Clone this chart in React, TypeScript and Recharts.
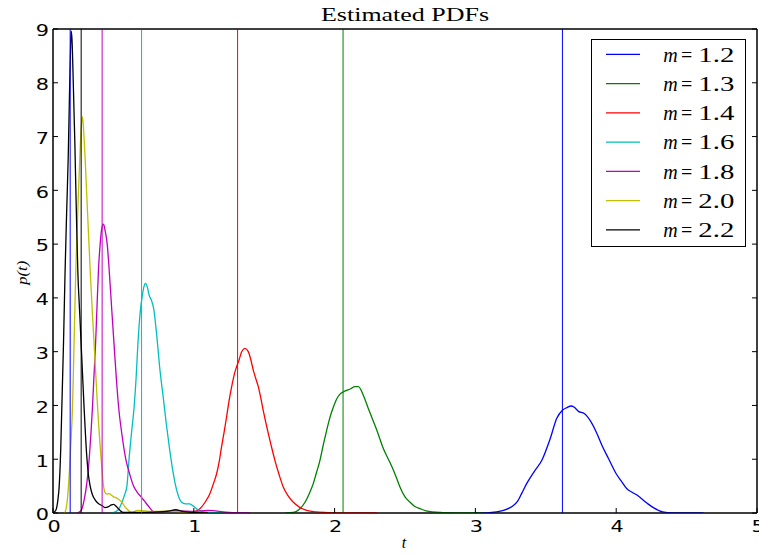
import React from 'react';
import { LineChart, Line, XAxis, YAxis, ReferenceLine, ReferenceArea, Legend } from 'recharts';

// series labels + matplotlib classic colours
const mLabels = ['1.2', '1.3', '1.4', '1.6', '1.8', '2.0', '2.2'];
const seriesColors = ['#0000ff', '#008000', '#ff0000', '#00bfbf', '#bf00bf', '#bfbf00', '#000000'];

// estimated densities (t, p(t))
const tM12 = [3.0, 3.08, 3.15, 3.2, 3.247, 3.27, 3.3, 3.33, 3.365, 3.42, 3.472, 3.531, 3.578, 3.618, 3.65, 3.68, 3.7, 3.732, 3.773, 3.82, 3.863, 3.9, 3.946, 4.0, 4.04, 4.076, 4.11, 4.15, 4.22, 4.27, 4.33, 4.4, 4.62];
const pM12 = [0, 0.003, 0.02, 0.05, 0.1, 0.14, 0.22, 0.37, 0.55, 0.78, 0.98, 1.38, 1.76, 1.91, 1.96, 1.99, 1.97, 1.89, 1.85, 1.7, 1.48, 1.25, 1.01, 0.73, 0.58, 0.45, 0.39, 0.33, 0.18, 0.09, 0.02, 0.003, 0];

const tM13 = [1.65, 1.707, 1.75, 1.79, 1.82, 1.849, 1.87, 1.896, 1.92, 1.944, 1.965, 1.99, 2.015, 2.038, 2.06, 2.085, 2.115, 2.144, 2.169, 2.204, 2.24, 2.27, 2.3, 2.346, 2.382, 2.417, 2.44, 2.465, 2.5, 2.536, 2.57, 2.607, 2.65, 2.75, 2.85, 3.05];
const pM13 = [0, 0.01, 0.07, 0.2, 0.36, 0.55, 0.74, 0.98, 1.27, 1.54, 1.76, 1.96, 2.12, 2.21, 2.25, 2.28, 2.31, 2.35, 2.35, 2.19, 1.94, 1.74, 1.54, 1.2, 1.0, 0.8, 0.65, 0.48, 0.3, 0.2, 0.12, 0.08, 0.04, 0.01, 0.003, 0];

const tM14 = [0.95, 1.0, 1.043, 1.08, 1.114, 1.14, 1.162, 1.18, 1.197, 1.215, 1.233, 1.25, 1.269, 1.29, 1.304, 1.322, 1.34, 1.363, 1.387, 1.405, 1.422, 1.44, 1.458, 1.475, 1.493, 1.51, 1.529, 1.55, 1.576, 1.605, 1.636, 1.67, 1.707, 1.75, 1.801, 1.87, 1.96, 2.1, 2.3];
const pM14 = [0, 0.02, 0.08, 0.2, 0.36, 0.55, 0.73, 0.95, 1.23, 1.5, 1.79, 2.08, 2.35, 2.6, 2.72, 2.85, 3.0, 3.06, 3.0, 2.85, 2.66, 2.5, 2.35, 2.15, 1.91, 1.7, 1.48, 1.25, 0.98, 0.72, 0.48, 0.32, 0.2, 0.11, 0.05, 0.02, 0.008, 0.003, 0];

const tM16 = [0.42, 0.46, 0.49, 0.51, 0.525, 0.54, 0.558, 0.577, 0.59, 0.6, 0.612, 0.622, 0.632, 0.645, 0.657, 0.67, 0.683, 0.7, 0.715, 0.735, 0.76, 0.783, 0.805, 0.83, 0.85, 0.865, 0.89, 0.913, 0.94, 0.97, 1.0, 1.03, 1.07, 1.15, 1.3];
const pM16 = [0, 0.05, 0.2, 0.35, 0.5, 1.0, 1.5, 2.0, 2.5, 3.0, 3.5, 3.8, 4.0, 4.2, 4.27, 4.2, 4.05, 3.95, 3.8, 3.35, 2.65, 2.15, 1.65, 1.15, 0.8, 0.58, 0.32, 0.2, 0.17, 0.17, 0.12, 0.06, 0.02, 0.005, 0];

const tM18 = [0.17, 0.2, 0.221, 0.24, 0.257, 0.27, 0.281, 0.29, 0.3, 0.312, 0.323, 0.335, 0.347, 0.359, 0.37, 0.385, 0.399, 0.418, 0.437, 0.45, 0.465, 0.49, 0.517, 0.545, 0.572, 0.6, 0.626, 0.65, 0.68, 0.72, 0.8, 0.9, 1.0, 1.1, 1.15, 1.25, 1.4];
const pM18 = [0, 0.05, 0.24, 0.55, 1.0, 1.5, 2.0, 2.5, 3.0, 3.8, 4.52, 5.0, 5.3, 5.37, 5.25, 5.0, 4.52, 3.75, 3.0, 2.5, 2.0, 1.45, 1.0, 0.72, 0.5, 0.38, 0.3, 0.22, 0.12, 0.02, 0.03, 0.04, 0.03, 0.05, 0.04, 0.01, 0];

const tM20 = [0.08, 0.09, 0.1, 0.11, 0.125, 0.139, 0.15, 0.162, 0.172, 0.181, 0.192, 0.2, 0.209, 0.218, 0.228, 0.24, 0.252, 0.264, 0.28, 0.295, 0.316, 0.342, 0.359, 0.37, 0.385, 0.4, 0.415, 0.43, 0.45, 0.467, 0.49, 0.51, 0.527, 0.56, 0.6, 0.65, 0.7, 0.75, 0.8, 0.9, 1.0, 1.1];
const pM20 = [0, 0.05, 0.2, 0.5, 1.2, 2.0, 3.2, 4.52, 5.3, 5.98, 6.7, 7.15, 7.37, 7.1, 6.6, 5.9, 5.2, 4.52, 3.7, 3.0, 2.0, 1.0, 0.5, 0.38, 0.35, 0.36, 0.33, 0.3, 0.28, 0.25, 0.2, 0.12, 0.07, 0.01, 0.05, 0.04, 0.03, 0.03, 0.04, 0.02, 0.01, 0];

const tM22 = [0.0, 0.02, 0.035, 0.044, 0.055, 0.063, 0.075, 0.086, 0.097, 0.108, 0.118, 0.125, 0.129, 0.135, 0.145, 0.155, 0.165, 0.176, 0.19, 0.205, 0.221, 0.24, 0.252, 0.264, 0.28, 0.3, 0.32, 0.347, 0.37, 0.395, 0.415, 0.43, 0.45, 0.475, 0.5, 0.6, 0.75, 0.83, 0.87, 0.92, 1.0, 1.1];
const pM22 = [0, 0.05, 0.25, 0.5, 1.2, 2.0, 3.2, 4.52, 5.6, 6.6, 7.9, 8.7, 8.96, 8.8, 7.9, 6.9, 5.7, 4.52, 3.7, 2.85, 1.95, 1.05, 0.7, 0.5, 0.34, 0.24, 0.18, 0.14, 0.1, 0.12, 0.15, 0.16, 0.12, 0.05, 0.01, 0.01, 0.02, 0.04, 0.06, 0.03, 0.01, 0];

// vertical marker lines
const markerT = [3.618, 2.06, 1.311, 0.629, 0.349, 0.2, 0.122];
const markerColors = ['#0000ff', '#008000', '#ff0000', '#00bfbf', '#bf00bf', '#000000', '#0000ff'];

const xTicks = [0, 1, 2, 3, 4, 5];
const yTicks = [0, 1, 2, 3, 4, 5, 6, 7, 8, 9];

const seriesT = [tM12, tM13, tM14, tM16, tM18, tM20, tM22];
const seriesP = [pM12, pM13, pM14, pM16, pM18, pM20, pM22];
const seriesData = seriesT.map((ts, i) => ts.map((t, j) => ({ t, p: seriesP[i][j] })));

const TICK_COLOR = '#000';
const TICK_LEN = 5;
// default recharts tickSize (6) + tickMargin (2): distance from the axis line to the tick anchor
const ANCHOR_GAP = 8;

const BottomTick = ({ x, y, payload }: any) => (
  <g>
    <line x1={x} x2={x} y1={y} y2={y - TICK_LEN} stroke={TICK_COLOR} />
    <text transform={`translate(${x + 1},${y + 19}) scale(1.3,1)`} textAnchor="middle" fontFamily="DejaVu Sans" fontSize={16} fill="#000">
      {payload.value}
    </text>
  </g>
);

const LeftTick = ({ x, y, payload }: any) => (
  <g>
    <line x1={x} x2={x + TICK_LEN} y1={y} y2={y} stroke={TICK_COLOR} />
    <text transform={`translate(${x - 4},${y + 7.3}) scale(1.3,1)`} textAnchor="end" fontFamily="DejaVu Sans" fontSize={16} fill="#000">
      {payload.value}
    </text>
  </g>
);

// top / right frame: inward ticks, no labels (axes keep their default tick size/margin)
const TopTick = ({ x, y }: any) => (
  <line x1={x} x2={x} y1={y + ANCHOR_GAP} y2={y + ANCHOR_GAP + TICK_LEN} stroke={TICK_COLOR} />
);
const RightTick = ({ x, y }: any) => (
  <line x1={x - ANCHOR_GAP} x2={x - ANCHOR_GAP - TICK_LEN} y1={y} y2={y} stroke={TICK_COLOR} />
);

const renderLegend = ({ payload }: any) => (
  <div style={{ width: 155, height: 208, border: '1px solid #000', boxSizing: 'border-box', background: '#fff' }}>
    <svg width={153} height={206} style={{ display: 'block' }}>
      {(payload || []).map((entry: any, i: number) => {
        const cy = 14.3 + i * 29.25;
        const [lhs, rhs] = String(entry.value).split('=');
        return (
          <g key={entry.value}>
            <line x1={14} x2={48} y1={cy} y2={cy} stroke={entry.color} strokeWidth={1.3} />
            <text y={cy + 7.4} fontFamily="Liberation Serif" fontSize={20} fill="#000">
              <tspan x={71.3} fontStyle="italic">{lhs}</tspan>
              <tspan x={89}>=</tspan>
              <tspan x={106.3} textLength={36} lengthAdjust="spacingAndGlyphs">{rhs}</tspan>
            </text>
          </g>
        );
      })}
    </svg>
  </div>
);

export default function App() {
  // chart is 8px wider than the page so the right axis (10px) sits at x=757; the overflow is hidden
  return (
    <div style={{ position: 'absolute', left: 0, top: 0, width: 759, height: 555, overflow: 'hidden', background: '#fff' }}>
      <LineChart width={767} height={555} margin={{ top: 19, right: 0, bottom: 0, left: 0 }}>
        <XAxis
          dataKey="t"
          type="number"
          domain={[0, 5]}
          ticks={xTicks}
          allowDataOverflow
          height={42}
          tickSize={0}
          tickMargin={0}
          tickLine={false}
          axisLine={{ stroke: '#000' }}
          tick={<BottomTick />}
        />
        <XAxis
          xAxisId="top"
          orientation="top"
          type="number"
          domain={[0, 5]}
          ticks={xTicks}
          allowDataOverflow
          height={10}
          tickLine={{ stroke: 'none' }}
          axisLine={{ stroke: '#000' }}
          tick={<TopTick />}
        />
        <YAxis
          type="number"
          domain={[0, 9]}
          ticks={yTicks}
          allowDataOverflow
          width={53}
          tickSize={0}
          tickMargin={0}
          tickLine={false}
          axisLine={{ stroke: '#000' }}
          tick={<LeftTick />}
        />
        <YAxis
          yAxisId="right"
          orientation="right"
          type="number"
          domain={[0, 9]}
          ticks={yTicks}
          allowDataOverflow
          width={10}
          tickLine={{ stroke: 'none' }}
          axisLine={{ stroke: '#000' }}
          tick={<RightTick />}
        />
        {/* plot frame as a stroked area over the full domain */}
        <ReferenceArea x1={0} x2={5} y1={0} y2={9} fill="none" fillOpacity={0} stroke="#000" strokeWidth={1} ifOverflow="visible" />
        {seriesData.map((d, i) => (
          <Line
            key={mLabels[i]}
            data={d}
            dataKey="p"
            name={`m=${mLabels[i]}`}
            type="monotone"
            stroke={seriesColors[i]}
            strokeWidth={1.3}
            dot={false}
            activeDot={false}
            isAnimationActive={false}
          />
        ))}
        {markerT.map((t, i) => (
          <ReferenceLine key={`m${i}`} x={t} stroke={markerColors[i]} strokeWidth={1} />
        ))}
        <Legend
          content={renderLegend}
          layout="horizontal"
          verticalAlign="middle"
          align="center"
          wrapperStyle={{ left: 591, top: 39, width: 155, height: 208 }}
        />
      </LineChart>
      <svg width={759} height={555} style={{ position: 'absolute', left: 0, top: 0, pointerEvents: 'none' }}>
        <text x={405} y={20.7} textAnchor="middle" fontFamily="Liberation Serif" fontSize={18} textLength={168} lengthAdjust="spacingAndGlyphs" fill="#000">
          Estimated PDFs
        </text>
        <text x={404} y={548.3} textAnchor="middle" fontFamily="Liberation Serif" fontStyle="italic" fontSize={16} fill="#000">
          t
        </text>
        <text transform="translate(27,272.8) rotate(-90)" textAnchor="middle" fontFamily="Liberation Serif" fontStyle="italic" fontSize={14} textLength={24} lengthAdjust="spacingAndGlyphs" fill="#000">
          p(t)
        </text>
      </svg>
    </div>
  );
}
